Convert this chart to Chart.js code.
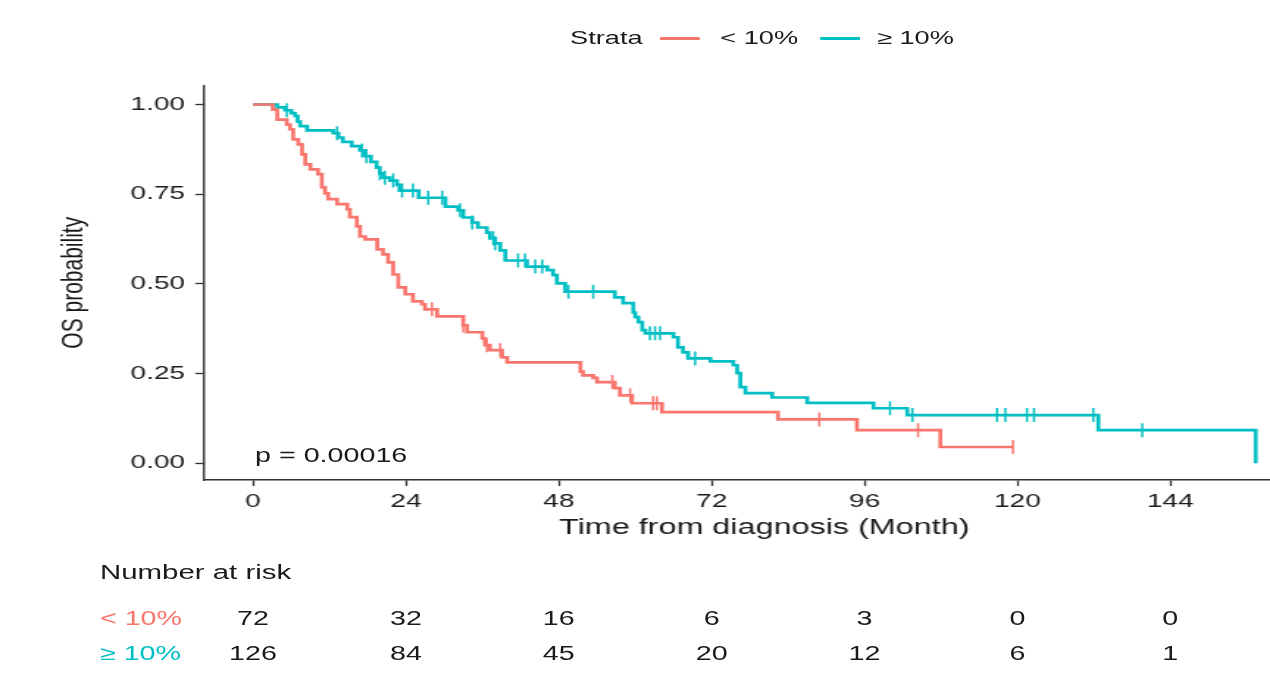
<!DOCTYPE html>
<html>
<head>
<meta charset="utf-8">
<script src="https://cdn.jsdelivr.net/npm/chart.js@4.4.1/dist/chart.umd.min.js"></script>
<style>
html, body { margin: 0; padding: 0; background: #fff; overflow: hidden; width: 1270px; height: 678px; }
/* le graphique d'origine est etire horizontalement, on fait pareil */
#wrap { position: absolute; left: 0; top: 0; width: 901px; height: 678px;
        transform: scaleX(1.47); transform-origin: 0 0;
        font-family: "Liberation Sans", Arial, sans-serif; color: #1a1a1a; }
#km { position: absolute; left: 0; top: 0; }
.t { position: absolute; white-space: nowrap; line-height: 1; }
.trait { position: absolute; height: 3px; }
</style>
</head>
<body>
<div id="wrap">
    <canvas id="km" width="901" height="678"></canvas>
    <div class="t" style="left:387.8px; top:29px; font-size:18.5px">Strata</div>
    <div class="trait" style="left:449px; top:36.5px; width:27px; background:#F8766D"></div>
    <div class="t" style="left:490px; top:29px; font-size:18.5px">&lt; 10%</div>
    <div class="trait" style="left:558px; top:36.5px; width:27px; background:#00BFC4"></div>
    <div class="t" style="left:596.6px; top:29px; font-size:18.5px">≥ 10%</div>
    <div class="t" style="left:173.5px; top:445.5px; font-size:19.5px">p = 0.00016</div>
    <div id="risque"></div>
</div>
<script>
// Groupe < 10% : temps des deces (mois) et survie apres chaque marche
const tempsBas = [3.1, 3.8, 5.3, 5.8, 6.3, 7.1, 7.7, 8.2, 9.0, 10.2, 10.8, 11.3, 11.8, 13.2, 14.8, 15.2,
    16.3, 16.8, 17.6, 19.5, 20.4, 21.2, 22.0, 22.8, 23.9, 25.1, 26.5, 27.0, 28.9, 33.0, 33.6, 36.0,
    36.4, 37.2, 39.1, 39.9, 51.4, 51.8, 53.4, 54.0, 56.8, 57.6, 59.5, 64.2, 82.4, 94.8, 107.9]
const survieBas = [0.986, 0.958, 0.944, 0.931, 0.903, 0.889, 0.861, 0.833, 0.819, 0.806, 0.769, 0.752,
    0.736, 0.722, 0.708, 0.686, 0.660, 0.632, 0.624, 0.596, 0.582, 0.560, 0.526, 0.490, 0.471, 0.451,
    0.443, 0.429, 0.409, 0.384, 0.365, 0.348, 0.329, 0.315, 0.295, 0.281, 0.255, 0.245, 0.238, 0.226,
    0.209, 0.189, 0.167, 0.142, 0.122, 0.092, 0.045]
const censureBas = [28.1, 33.0, 36.7, 38.8, 56.4, 59.2, 62.8, 63.4, 88.9, 104.4, 119.3]

// Groupe >= 10%
const tempsHaut = [3.8, 5.0, 6.0, 6.6, 7.0, 7.4, 8.5, 12.6, 13.4, 14.1, 15.5, 16.8, 17.6, 18.5, 19.4,
    19.9, 20.4, 21.5, 22.6, 23.0, 26.0, 30.2, 32.2, 33.0, 34.4, 35.3, 36.7, 37.2, 38.0, 38.8, 39.6,
    43.0, 46.2, 47.1, 47.7, 49.0, 56.8, 58.1, 59.7, 60.0, 60.5, 61.1, 61.6, 66.0, 66.7, 67.5, 68.3,
    71.8, 75.4, 76.0, 76.5, 77.3, 81.5, 87.0, 97.4, 102.7, 132.7, 157.4]
const survieHaut = [0.992, 0.984, 0.976, 0.968, 0.952, 0.940, 0.928, 0.920, 0.908, 0.896, 0.884, 0.872,
    0.856, 0.840, 0.824, 0.808, 0.796, 0.788, 0.776, 0.760, 0.740, 0.715, 0.705, 0.685, 0.671, 0.657,
    0.643, 0.627, 0.613, 0.593, 0.565, 0.548, 0.538, 0.524, 0.501, 0.478, 0.462, 0.446, 0.420, 0.407,
    0.393, 0.371, 0.362, 0.351, 0.323, 0.309, 0.292, 0.284, 0.273, 0.251, 0.212, 0.195, 0.183, 0.168,
    0.153, 0.134, 0.092, 0.0]
const censureHaut = [5.3, 13.2, 17.1, 17.8, 19.9, 20.7, 22.0, 23.4, 25.1, 27.5, 29.7, 32.5, 34.4, 37.7,
    38.0, 41.6, 42.7, 44.3, 45.4, 49.5, 53.4, 62.3, 63.1, 63.9, 69.4, 100.0, 103.5, 116.8, 118.1,
    121.5, 122.6, 131.9, 139.6]

// Tableau des effectifs a risque
const tempsRisque = [0, 24, 48, 72, 96, 120, 144]
const risqueBas = [72, 32, 16, 6, 3, 0, 0]
const risqueHaut = [126, 84, 45, 20, 12, 6, 1]
const ticksY = [0, 0.25, 0.5, 0.75, 1]

const rouge = "#F8766D"
const turquoise = "#00BFC4"

// courbe en escalier : depart a 1, puis chaque marche, et on prolonge jusqu'a la derniere censure
function courbe(temps, survie, censures) {
    let pts = [{x: 0, y: 1}]
    temps.forEach((t, i) => pts.push({x: t, y: survie[i]}))
    let fin = censures[censures.length - 1]
    if (fin > temps[temps.length - 1]) pts.push({x: fin, y: survie[survie.length - 1]})
    return pts
}
// valeur de la courbe au moment d'une censure
function marques(temps, survie, censures) {
    return censures.map(c => {
        let s = 1
        temps.forEach((t, i) => { if (t <= c) s = survie[i] })
        return {x: c, y: s}
    })
}

const police = '"Liberation Sans", Arial, sans-serif'
const encre = "#1a1a1a"

const chart = new Chart(document.getElementById("km"), {
    type: "line",
    data: {
        datasets: [
            {data: courbe(tempsBas, survieBas, censureBas), borderColor: rouge, borderWidth: 2.7,
             stepped: true, pointRadius: 0, fill: false},
            {data: courbe(tempsHaut, survieHaut, censureHaut), borderColor: turquoise, borderWidth: 2.7,
             stepped: true, pointRadius: 0, fill: false},
            {type: "scatter", data: marques(tempsBas, survieBas, censureBas), borderColor: rouge,
             backgroundColor: rouge, pointStyle: "line", rotation: 90, pointRadius: 7, borderWidth: 1.5},
            {type: "scatter", data: marques(tempsHaut, survieHaut, censureHaut), borderColor: turquoise,
             backgroundColor: turquoise, pointStyle: "line", rotation: 90, pointRadius: 7, borderWidth: 1.5}
        ]
    },
    options: {
        responsive: false, // taille fixe, sinon le scaleX fausse la mesure
        animation: false,
        devicePixelRatio: 1,
        layout: {autoPadding: false, padding: {left: 0, right: 0, top: 85.5, bottom: 128}},
        plugins: {legend: {display: false}, tooltip: {enabled: false}},
        scales: {
            x: {
                type: "linear", min: -7.69, max: 168.2,
                afterBuildTicks: s => { s.ticks = tempsRisque.map(v => ({value: v})) },
                afterFit: s => { s.height = 70 },
                grid: {drawOnChartArea: false, drawTicks: true, tickLength: 6, tickColor: "#333", tickWidth: 1.3},
                border: {display: true, color: "#333", width: 1.4},
                ticks: {color: encre, font: {family: police, size: 19}, padding: 4, maxRotation: 0, autoSkip: false},
                title: {display: true, text: "Time from diagnosis (Month)", color: encre,
                        font: {family: police, size: 22}, padding: {top: 0, bottom: 9}}
            },
            y: {
                type: "linear", min: -0.047, max: 1.053,
                afterBuildTicks: s => { s.ticks = ticksY.map(v => ({value: v})) },
                afterFit: s => { s.width = 138.8 },
                grid: {drawOnChartArea: false, drawTicks: true, tickLength: 6, tickColor: "#333", tickWidth: 1.3},
                border: {display: true, color: "#333", width: 1.4},
                ticks: {color: encre, font: {family: police, size: 19}, padding: 7,
                        callback: v => Number(v).toFixed(2)},
                title: {display: true, text: "OS probability", color: encre,
                        font: {family: police, size: 21}, padding: {top: 38, bottom: 0}}
            }
        }
    }
})

// tableau "Number at risk" aligne sur l'axe des x
function tableau() {
    const zone = document.getElementById("risque")
    const sx = chart.scales.x
    let html = '<div class="t" style="left:68px; top:562px; font-size:20px">Number at risk</div>'
    html += '<div class="t" style="left:68px; top:608.5px; font-size:19.5px; color:' + rouge + '">&lt; 10%</div>'
    html += '<div class="t" style="left:68px; top:643.5px; font-size:19.5px; color:' + turquoise + '">≥ 10%</div>'
    tempsRisque.forEach((t, i) => {
        let x = sx.getPixelForValue(t)
        html += '<div class="t" style="left:' + x + 'px; top:608.5px; font-size:19.5px; transform:translateX(-50%)">' + risqueBas[i] + '</div>'
        html += '<div class="t" style="left:' + x + 'px; top:643.5px; font-size:19.5px; transform:translateX(-50%)">' + risqueHaut[i] + '</div>'
    })
    zone.innerHTML = html
}
tableau()
</script>
</body>
</html>
